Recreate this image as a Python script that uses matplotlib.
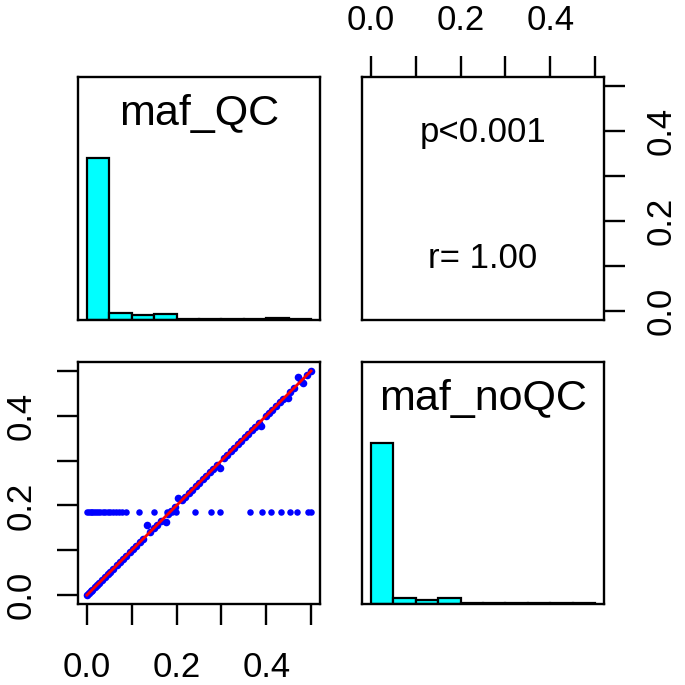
import numpy as np
import matplotlib
matplotlib.use('Agg')
import matplotlib.pyplot as plt

plt.rcParams['font.family'] = ['Liberation Sans', 'DejaVu Sans']

# 变量名
var_names = ['maf_QC', 'maf_noQC']

# 直方图（柱高已按最大值归一化），分箱宽 0.05
bin_edges = [0.0, 0.05, 0.10, 0.15, 0.20, 0.25, 0.30, 0.35, 0.40, 0.45, 0.50]
hist_qc = [1.0, 0.041, 0.029, 0.039, 0.006, 0.006, 0.007, 0.008, 0.010, 0.007]
hist_noqc = [1.0, 0.039, 0.025, 0.035, 0.006, 0.006, 0.006, 0.007, 0.009, 0.006]

# 散点：对角线上的点
diag_qc = [0.000, 0.004, 0.008, 0.012, 0.017, 0.022, 0.027, 0.033, 0.040, 0.046,
           0.052, 0.059, 0.066, 0.073, 0.080, 0.088, 0.095, 0.103, 0.110, 0.118,
           0.126, 0.135, 0.141, 0.149, 0.157, 0.165, 0.176, 0.180, 0.188, 0.196,
           0.2025, 0.211, 0.219, 0.227, 0.235, 0.243, 0.251, 0.258, 0.266, 0.274,
           0.282, 0.290, 0.296, 0.305, 0.313, 0.321, 0.329, 0.336, 0.344, 0.352,
           0.360, 0.368, 0.375, 0.383, 0.389, 0.399, 0.407, 0.414, 0.422, 0.430,
           0.438, 0.449, 0.453, 0.461, 0.472, 0.477, 0.483, 0.492, 0.500]
diag_noqc = [0.000, 0.004, 0.008, 0.012, 0.017, 0.022, 0.027, 0.033, 0.040, 0.046,
             0.052, 0.059, 0.066, 0.073, 0.080, 0.088, 0.095, 0.103, 0.110, 0.118,
             0.126, 0.156, 0.141, 0.149, 0.157, 0.165, 0.164, 0.180, 0.188, 0.196,
             0.216, 0.211, 0.219, 0.227, 0.235, 0.243, 0.251, 0.258, 0.266, 0.274,
             0.282, 0.290, 0.283, 0.305, 0.313, 0.321, 0.329, 0.336, 0.344, 0.352,
             0.360, 0.368, 0.375, 0.383, 0.378, 0.399, 0.407, 0.414, 0.422, 0.430,
             0.438, 0.439, 0.453, 0.461, 0.487, 0.477, 0.473, 0.492, 0.500]

# 散点：水平一行（maf_noQC 约 0.185）
row_qc = [0.000, 0.004, 0.008, 0.012, 0.016, 0.020, 0.025, 0.030, 0.035, 0.040,
          0.046, 0.052, 0.058, 0.064, 0.071, 0.079, 0.087, 0.115, 0.149, 0.178,
          0.190, 0.199, 0.242, 0.277, 0.296, 0.363, 0.391, 0.410, 0.434, 0.454,
          0.468, 0.493, 0.499]
row_noqc = [0.185] * len(row_qc)

# 平滑曲线（读图得到）
smooth_x = [0.0, 0.1, 0.2, 0.3, 0.4, 0.5]
smooth_y = [0.0, 0.1, 0.2, 0.3, 0.4, 0.5]

p_text = 'p<0.001'
r_text = 'r= 1.00'

ticks = [0.0, 0.1, 0.2, 0.3, 0.4, 0.5]
tick_labels = ['0.0', '', '0.2', '', '0.4', '']
lim = (-0.02, 0.52)
fs_tick = 25
lw = 1.7

W = 685.0
fig = plt.figure(figsize=(6.85, 6.85), dpi=100)


def box(x0, x1, y0, y1):
    # 像素坐标 -> figure 比例
    return [x0 / W, 1 - y1 / W, (x1 - x0) / W, (y1 - y0) / W]


ax_tl = fig.add_axes(box(78, 320, 77, 320))
ax_tr = fig.add_axes(box(362, 604, 77, 320))
ax_bl = fig.add_axes(box(78, 320, 362, 604))
ax_br = fig.add_axes(box(362, 604, 362, 604))

for ax in [ax_tl, ax_tr, ax_bl, ax_br]:
    for s in ax.spines.values():
        s.set_linewidth(lw)
    ax.tick_params(length=15, width=lw, labelsize=fs_tick, pad=19,
                   bottom=False, left=False, top=False, right=False,
                   labelbottom=False, labelleft=False, labeltop=False, labelright=False)
    ax.set_xlim(*lim)
    ax.set_xticks(ticks)
    ax.set_xticklabels(tick_labels)

# 直方图面板
for ax, h, name in [(ax_tl, hist_qc, var_names[0]), (ax_br, hist_noqc, var_names[1])]:
    ax.bar(bin_edges[:-1], h, width=0.05, align='edge', color='#00FFFF',
           edgecolor='black', linewidth=1.6)
    ax.set_ylim(0, 1.5)
    ax.set_yticks([])
    ax.text(0.25, 1.27, name, ha='center', va='center', fontsize=31)

# 散点面板
ax_bl.scatter(diag_qc, diag_noqc, s=30, color='#0000FF', linewidths=0)
ax_bl.scatter(row_qc, row_noqc, s=22, color='#0000FF', linewidths=0)
ax_bl.plot(smooth_x, smooth_y, color='red', linewidth=2)
ax_bl.set_ylim(*lim)
ax_bl.set_yticks(ticks)
ax_bl.set_yticklabels(tick_labels, rotation=90, va='center')
ax_bl.tick_params(bottom=True, left=True, labelbottom=True, labelleft=True)
ax_bl.tick_params(axis='y', pad=14)

# 相关系数面板
ax_tr.set_ylim(*lim)
ax_tr.set_yticks(ticks)
ax_tr.set_yticklabels(tick_labels, rotation=90, va='center')
ax_tr.tick_params(top=True, right=True, labeltop=True, labelright=True, pad=14)
ax_tr.text(0.5, 0.77, p_text, transform=ax_tr.transAxes, ha='center', va='center', fontsize=25)
ax_tr.text(0.5, 0.253, r_text, transform=ax_tr.transAxes, ha='center', va='center', fontsize=25)

fig.savefig('out.png', dpi=100)
